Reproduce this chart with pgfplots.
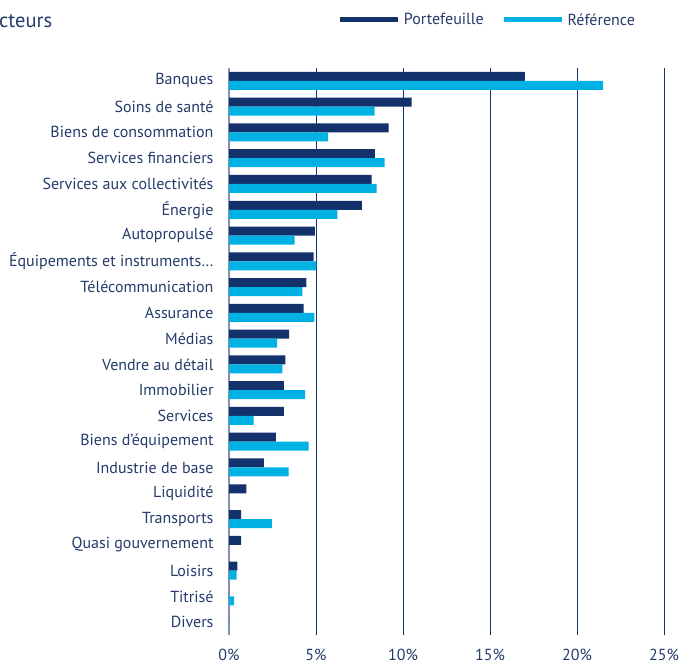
\documentclass[border=0pt]{standalone}
\usepackage{fontspec}
\setmainfont{PT Sans}
\usepackage{pgfplots}
\pgfplotsset{compat=1.18}
\definecolor{navybar}{HTML}{13316A}
\definecolor{refbar}{HTML}{00B2E3}
\definecolor{txt}{HTML}{243B6B}
\definecolor{zeroline}{HTML}{8590AE}
\begin{document}
\begin{tikzpicture}[x=1pt,y=1pt]
\useasboundingbox (0,0) rectangle (692,665);
\node[anchor=west, text=txt, font=\fontsize{20.5}{22}\selectfont, inner sep=0pt] at (-1,644) {cteurs};
\begin{axis}[
  at={(229pt,30pt)}, anchor=south west,
  scale only axis, width=435pt, height=567pt,
  xmin=0, xmax=25, ymin=-0.5, ymax=21.5,
  /pgf/number format/assume math mode=true,
  xtick={5,10,15,20,25},
  xticklabel={\pgfmathprintnumber{\tick}\%},
  extra x ticks={0}, extra x tick labels={0\%},
  extra x tick style={grid style={draw=zeroline, line width=1.6pt}},
  ytick={0,...,21},
  yticklabels={Divers,Titrisé,Loisirs,Quasi gouvernement,Transports,Liquidité,Industrie de base,Biens d'équipement,Services,Immobilier,Vendre au détail,Médias,Assurance,Télécommunication,Équipements et instruments…,Autopropulsé,Énergie,Services aux collectivités,Services financiers,Biens de consommation,Soins de santé,Banques},
  axis line style={draw=none},
  major tick length=0pt,
  xmajorgrids, ymajorgrids=false,
  grid style={draw=navybar, line width=0.9pt},
  xticklabel style={text=txt, font=\fontsize{16}{18}\selectfont, yshift=-11pt},
  yticklabel style={text=txt, font=\fontsize{16}{18}\selectfont, xshift=-12pt},
  legend columns=2,
  legend style={draw=none, fill=none, at={(0.945,1)}, anchor=east, yshift=48pt,
    font=\fontsize{16}{18}\selectfont, text=txt,
    /tikz/every even column/.append style={column sep=18pt},
    /tikz/every odd column/.append style={column sep=4pt}},
  legend cell align=left,
]
\addplot[xbar, bar width=9pt, bar shift=4.5pt, fill=navybar, draw=none,
  legend image code/.code={\fill[navybar] (0pt,-2.5pt) rectangle (58pt,2.5pt);}]
coordinates {
(17.0,21) (10.5,20) (9.18,19) (8.39,18) (8.2,17) (7.64,16) (4.94,15) (4.87,14)
(4.44,13) (4.29,12) (3.45,11) (3.24,10) (3.16,9) (3.16,8) (2.70,7) (2.01,6)
(1.0,5) (0.69,4) (0.69,3) (0.48,2) (0,1) (0,0)
};
\addlegendentry{Portefeuille}
\addplot[xbar, bar width=9pt, bar shift=-4.5pt, fill=refbar, draw=none,
  legend image code/.code={\fill[refbar] (0pt,-2.5pt) rectangle (58pt,2.5pt);}]
coordinates {
(21.5,21) (8.37,20) (5.69,19) (8.95,18) (8.49,17) (6.23,16) (3.77,15) (5.02,14)
(4.21,13) (4.9,12) (2.76,11) (3.07,10) (4.37,9) (1.42,8) (4.58,7) (3.43,6)
(0,5) (2.47,4) (0,3) (0.44,2) (0.29,1) (0,0)
};
\addlegendentry{Référence}
\end{axis}
\end{tikzpicture}
\end{document}
